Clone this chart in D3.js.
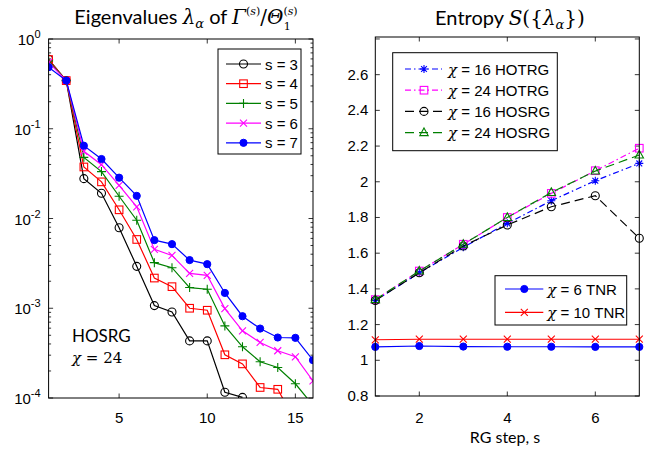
<!DOCTYPE html>
<html><head><meta charset="utf-8">
<script src="https://cdn.jsdelivr.net/npm/d3@7"></script>
<style>body{margin:0;background:#fff}svg{display:block}</style>
</head><body>
<script>
// ---------- DATA ----------
const eigIndex = d3.range(1, 17);
const eigS3 = [0.594, 0.344, 0.0278, 0.0191, 0.0079, 0.00293, 0.00107, 0.00091, 0.000433, 0.000433, 0.000116, 0.0001016];
const eigS4 = [0.59, 0.344, 0.0375, 0.0256, 0.0125, 0.00584, 0.00217, 0.00174, 0.0010, 0.00095, 0.000303, 0.00024, 0.000131, 0.000125, 0.000055];
const eigS5 = [0.57, 0.345, 0.048, 0.0333, 0.0177, 0.00957, 0.00322, 0.00283, 0.0017, 0.00163, 0.000636, 0.000372, 0.000253, 0.000219, 0.000144, 0.000083];
const eigS6 = [0.55, 0.345, 0.056, 0.0398, 0.0234, 0.0135, 0.00453, 0.00388, 0.00245, 0.00233, 0.00099, 0.00056, 0.000416, 0.000336, 0.000288, 0.000155];
const eigS7 = [0.485, 0.345, 0.0647, 0.046, 0.0285, 0.01787, 0.00574, 0.00518, 0.00344, 0.0031, 0.00148, 0.000815, 0.000594, 0.000472, 0.000468, 0.000264];
const eigLabels = ["s = 3", "s = 4", "s = 5", "s = 6", "s = 7"];
const leftXTicks = [5, 10, 15];
const leftYTicks = [1e-4, 1e-3, 1e-2, 1e-1, 1];

const rgSteps = [1, 2, 3, 4, 5, 6, 7];
const hotrg16 = [1.335, 1.49, 1.633, 1.767, 1.894, 2.006, 2.103];
const hotrg24 = [1.34, 1.50, 1.65, 1.80, 1.935, 2.062, 2.188];
const hosrg16 = [1.335, 1.49, 1.64, 1.758, 1.86, 1.922, 1.684];
const hosrg24 = [1.34, 1.50, 1.65, 1.80, 1.94, 2.06, 2.15];
const tnr6 = [1.075, 1.08, 1.077, 1.076, 1.076, 1.075, 1.075];
const tnr10 = [1.115, 1.118, 1.118, 1.118, 1.118, 1.118, 1.118];
const rightLabels1 = ["16 HOTRG", "24 HOTRG", "16 HOSRG", "24 HOSRG"];
const rightLabels2 = ["6 TNR", "10 TNR"];
const rightXTicks = [2, 4, 6];
const rightYTicks = [0.8, 1, 1.2, 1.4, 1.6, 1.8, 2, 2.2, 2.4, 2.6];

// ---------- SETUP ----------
const W = 657, H = 450;
const svg = d3.select("body").append("svg").attr("width", W).attr("height", H);
svg.append("rect").attr("width", W).attr("height", H).attr("fill", "#fff");
const TF = "'Liberation Sans', Arial, sans-serif";
const TitleF = "Lato, 'Open Sans', sans-serif";
const MathF = "'DejaVu Serif', 'Liberation Serif', serif";

function marker(g, type, color, x, y) {
  const s = g.append("g").attr("transform", `translate(${x},${y})`);
  const sw = 1.1;
  if (type === "o") s.append("circle").attr("r", 4).attr("fill", "none").attr("stroke", color).attr("stroke-width", sw);
  else if (type === "sq") s.append("rect").attr("x", -3.8).attr("y", -3.8).attr("width", 7.6).attr("height", 7.6).attr("fill", "none").attr("stroke", color).attr("stroke-width", sw);
  else if (type === "+") s.append("path").attr("d", "M-4.5,0H4.5M0,-4.5V4.5").attr("stroke", color).attr("stroke-width", sw);
  else if (type === "x") s.append("path").attr("d", "M-3.5,-3.5L3.5,3.5M-3.5,3.5L3.5,-3.5").attr("stroke", color).attr("stroke-width", sw);
  else if (type === "dot") s.append("circle").attr("r", 3.6).attr("fill", color).attr("stroke", color);
  else if (type === "*") s.append("path").attr("d", "M-4,0H4M0,-4V4M-2.9,-2.9L2.9,2.9M-2.9,2.9L2.9,-2.9").attr("stroke", color).attr("stroke-width", sw);
  else if (type === "tri") s.append("path").attr("d", "M0,-4.6L4.2,3L-4.2,3Z").attr("fill", "none").attr("stroke", color).attr("stroke-width", sw);
}

// ---------- LEFT PANEL ----------
const L = {x0: 48.6, x1: 313, y0: 39, y1: 398};
const lx = d3.scaleLinear().domain([1, 16]).range([L.x0, L.x1]);
const ly = d3.scaleLog().domain([1e-4, 1]).range([L.y1, L.y0]);

svg.append("clipPath").attr("id", "clipL").append("rect")
  .attr("x", L.x0).attr("y", L.y0).attr("width", L.x1 - L.x0).attr("height", L.y1 - L.y0);

const leftG = svg.append("g");
const tl = 4.5;
const ticksL = leftG.append("g").attr("stroke", "#000").attr("stroke-width", 0.8);
leftXTicks.forEach(t => {
  ticksL.append("line").attr("x1", lx(t)).attr("x2", lx(t)).attr("y1", L.y1).attr("y2", L.y1 - tl);
  ticksL.append("line").attr("x1", lx(t)).attr("x2", lx(t)).attr("y1", L.y0).attr("y2", L.y0 + tl);
});
for (let e = -4; e <= 0; e++) {
  const v = Math.pow(10, e);
  const y = ly(v);
  ticksL.append("line").attr("x1", L.x0).attr("x2", L.x0 + tl).attr("y1", y).attr("y2", y);
  ticksL.append("line").attr("x1", L.x1).attr("x2", L.x1 - tl).attr("y1", y).attr("y2", y);
  if (e < 0) for (let m = 2; m <= 9; m++) {
    const ym = ly(m * v);
    ticksL.append("line").attr("x1", L.x0).attr("x2", L.x0 + 2.5).attr("y1", ym).attr("y2", ym);
    ticksL.append("line").attr("x1", L.x1).attr("x2", L.x1 - 2.5).attr("y1", ym).attr("y2", ym);
  }
}
leftXTicks.forEach(t => {
  leftG.append("text").attr("x", lx(t)).attr("y", L.y1 + 25).attr("text-anchor", "middle")
    .attr("font-family", TF).attr("font-size", 15).text(t);
});
leftYTicks.forEach(v => {
  const e = Math.round(Math.log10(v));
  const t = leftG.append("text").attr("x", L.x0 - 8).attr("y", ly(v) + 6).attr("text-anchor", "end")
    .attr("font-family", TF).attr("font-size", 15);
  t.append("tspan").text("10");
  t.append("tspan").attr("dy", -7).attr("font-size", 11).text(String(e));
});

const leftSeries = [
  {vals: eigS3, color: "#000000", m: "o"},
  {vals: eigS4, color: "#ff0000", m: "sq"},
  {vals: eigS5, color: "#008000", m: "+"},
  {vals: eigS6, color: "#ff00ff", m: "x"},
  {vals: eigS7, color: "#0000ff", m: "dot"}
];
const plotL = leftG.append("g").attr("clip-path", "url(#clipL)");
const lineL = d3.line().x((d, i) => lx(eigIndex[i])).y(d => ly(d));
leftSeries.forEach(s => {
  plotL.append("path").attr("d", lineL(s.vals)).attr("fill", "none").attr("stroke", s.color).attr("stroke-width", 1.2);
  s.vals.forEach((v, i) => marker(plotL, s.m, s.color, lx(eigIndex[i]), ly(v)));
});
leftG.append("rect").attr("x", L.x0).attr("y", L.y0).attr("width", L.x1 - L.x0).attr("height", L.y1 - L.y0)
  .attr("fill", "none").attr("stroke", "#000").attr("stroke-width", 1);

const lg = leftG.append("g");
lg.append("rect").attr("x", 218).attr("y", 49).attr("width", 83).attr("height", 105)
  .attr("fill", "#fff").attr("stroke", "#000").attr("stroke-width", 1);
leftSeries.forEach((s, i) => {
  const y = 64 + i * 19.7;
  lg.append("line").attr("x1", 226).attr("x2", 261).attr("y1", y).attr("y2", y).attr("stroke", s.color).attr("stroke-width", 1.2);
  marker(lg, s.m, s.color, 243.5, y);
  lg.append("text").attr("x", 265).attr("y", y + 5.5).attr("font-family", TF).attr("font-size", 15).text(eigLabels[i]);
});

leftG.append("text").attr("x", 72).attr("y", 342).attr("font-family", TitleF).attr("font-size", 17).text("HOSRG");
const chi = leftG.append("text").attr("x", 72).attr("y", 363).attr("font-family", MathF).attr("font-size", 15);
chi.append("tspan").attr("font-style", "italic").text("χ");
chi.append("tspan").text(" = 24");

// title left
const t1 = svg.append("text").attr("x", 186).attr("y", 24).attr("text-anchor", "middle").attr("font-family", TitleF).attr("font-size", 20);
t1.append("tspan").text("Eigenvalues ");
t1.append("tspan").attr("font-family", MathF).attr("font-style", "italic").text("λ");
t1.append("tspan").attr("font-family", MathF).attr("font-style", "italic").attr("font-size", 13).attr("dy", 4).text("α");
t1.append("tspan").attr("dy", -4).text(" of ");
t1.append("tspan").attr("font-family", MathF).attr("font-style", "italic").text("Γ");
t1.append("tspan").attr("font-family", MathF).attr("font-size", 11).attr("dy", -9).text("(");
t1.append("tspan").attr("font-family", MathF).attr("font-style", "italic").attr("font-size", 11).text("s");
t1.append("tspan").attr("font-family", MathF).attr("font-size", 11).text(")");
t1.append("tspan").attr("font-family", MathF).attr("dy", 9).text("/");
t1.append("tspan").attr("font-family", MathF).attr("font-style", "italic").text("Θ");
t1.append("tspan").attr("font-family", MathF).attr("font-size", 11).attr("dy", -9).text("(");
t1.append("tspan").attr("font-family", MathF).attr("font-style", "italic").attr("font-size", 11).text("s");
t1.append("tspan").attr("font-family", MathF).attr("font-size", 11).text(")");
t1.append("tspan").attr("font-family", MathF).attr("font-size", 11).attr("dx", -14).attr("dy", 15).text("1");

// ---------- RIGHT PANEL ----------
const R = {x0: 375.3, x1: 639.3, y0: 37, y1: 396};
const rx = d3.scaleLinear().domain([1, 7]).range([R.x0, R.x1]);
const ry = d3.scaleLinear().domain([0.8, 2.811]).range([R.y1, R.y0]);
const rightG = svg.append("g");
const ticksR = rightG.append("g").attr("stroke", "#000").attr("stroke-width", 0.8);
rightXTicks.forEach(t => {
  ticksR.append("line").attr("x1", rx(t)).attr("x2", rx(t)).attr("y1", R.y1).attr("y2", R.y1 - tl);
  ticksR.append("line").attr("x1", rx(t)).attr("x2", rx(t)).attr("y1", R.y0).attr("y2", R.y0 + tl);
});
rightYTicks.concat([2.8]).forEach(v => {
  ticksR.append("line").attr("x1", R.x0).attr("x2", R.x0 + tl).attr("y1", ry(v)).attr("y2", ry(v));
  ticksR.append("line").attr("x1", R.x1).attr("x2", R.x1 - tl).attr("y1", ry(v)).attr("y2", ry(v));
});
rightXTicks.forEach(t => {
  rightG.append("text").attr("x", rx(t)).attr("y", R.y1 + 27).attr("text-anchor", "middle")
    .attr("font-family", TF).attr("font-size", 15).text(t);
});
rightYTicks.forEach(v => {
  rightG.append("text").attr("x", R.x0 - 7).attr("y", ry(v) + 5).attr("text-anchor", "end")
    .attr("font-family", TF).attr("font-size", 15).text(d3.format("~g")(v));
});
rightG.append("text").attr("x", 505).attr("y", 443).attr("text-anchor", "middle")
  .attr("font-family", TitleF).attr("font-size", 16).text("RG step, s");

const rightSeries = [
  {vals: hotrg16, color: "#0000ff", m: "*", dash: "6,3,1.5,3"},
  {vals: hotrg24, color: "#ff00ff", m: "sq", dash: "6,3,1.5,3"},
  {vals: hosrg16, color: "#000000", m: "o", dash: "9,5"},
  {vals: hosrg24, color: "#008000", m: "tri", dash: "9,5"}
];
const tnrSeries = [
  {vals: tnr6, color: "#0000ff", m: "dot", dash: null},
  {vals: tnr10, color: "#ff0000", m: "x", dash: null}
];
const lineR = d3.line().x((d, i) => rx(rgSteps[i])).y(d => ry(d));
tnrSeries.concat(rightSeries).forEach(s => {
  rightG.append("path").attr("d", lineR(s.vals)).attr("fill", "none").attr("stroke", s.color)
    .attr("stroke-width", 1.2).attr("stroke-dasharray", s.dash);
  s.vals.forEach((v, i) => marker(rightG, s.m, s.color, rx(rgSteps[i]), ry(v)));
});
rightG.append("rect").attr("x", R.x0).attr("y", R.y0).attr("width", R.x1 - R.x0).attr("height", R.y1 - R.y0)
  .attr("fill", "none").attr("stroke", "#000").attr("stroke-width", 1);

const rg1 = rightG.append("g");
rg1.append("rect").attr("x", 392.7).attr("y", 52.7).attr("width", 164.6).attr("height", 98)
  .attr("fill", "#fff").attr("stroke", "#000").attr("stroke-width", 1);
rightSeries.forEach((s, i) => {
  const y = 69 + i * 21.2;
  rg1.append("line").attr("x1", 405).attr("x2", 442).attr("y1", y).attr("y2", y)
    .attr("stroke", s.color).attr("stroke-width", 1.2).attr("stroke-dasharray", s.dash);
  marker(rg1, s.m, s.color, 424, y);
  const t = rg1.append("text").attr("x", 448).attr("y", y + 5.5).attr("font-family", TF).attr("font-size", 15);
  t.append("tspan").attr("font-family", MathF).attr("font-style", "italic").text("χ");
  t.append("tspan").text(" = " + rightLabels1[i]);
});
const rg2 = rightG.append("g");
rg2.append("rect").attr("x", 495).attr("y", 275.7).attr("width", 131.7).attr("height", 49.3)
  .attr("fill", "#fff").attr("stroke", "#000").attr("stroke-width", 1);
tnrSeries.forEach((s, i) => {
  const y = 289 + i * 23.3;
  rg2.append("line").attr("x1", 505).attr("x2", 543.3).attr("y1", y).attr("y2", y).attr("stroke", s.color).attr("stroke-width", 1.2);
  marker(rg2, s.m, s.color, 524.3, y);
  const t = rg2.append("text").attr("x", 547.3).attr("y", y + 5.5).attr("font-family", TF).attr("font-size", 15);
  t.append("tspan").attr("font-family", MathF).attr("font-style", "italic").text("χ");
  t.append("tspan").text(" = " + rightLabels2[i]);
});

const t2 = svg.append("text").attr("x", 510).attr("y", 25).attr("text-anchor", "middle").attr("font-family", TitleF).attr("font-size", 20);
t2.append("tspan").text("Entropy   ");
t2.append("tspan").attr("font-family", MathF).attr("font-style", "italic").text("S");
t2.append("tspan").attr("font-family", MathF).text("({");
t2.append("tspan").attr("font-family", MathF).attr("font-style", "italic").text("λ");
t2.append("tspan").attr("font-family", MathF).attr("font-style", "italic").attr("font-size", 13).attr("dy", 4).text("α");
t2.append("tspan").attr("font-family", MathF).attr("dy", -4).text("})");
</script>
</body></html>
